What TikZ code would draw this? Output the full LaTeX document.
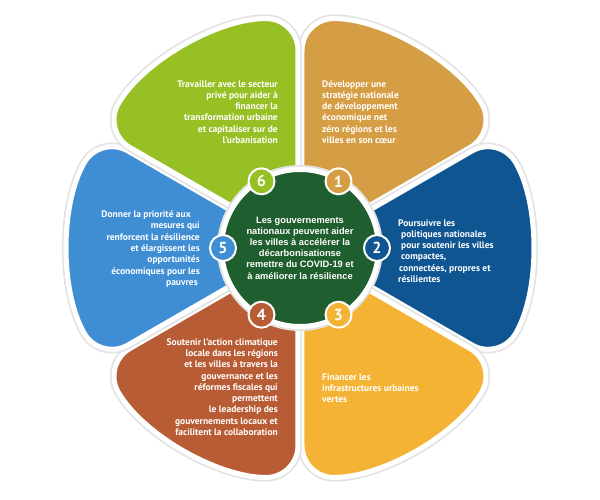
\documentclass[tikz,border=0pt]{standalone}
\usepackage{fontspec}
\setmainfont{PT Sans}
\newfontfamily\hubfont{Liberation Sans}
\usepackage{tikz}

\definecolor{petalone}{RGB}{214,158,68}
\definecolor{petaltwo}{RGB}{14,85,146}
\definecolor{petalthree}{RGB}{245,179,53}
\definecolor{petalfour}{RGB}{184,92,53}
\definecolor{petalfive}{RGB}{63,142,212}
\definecolor{petalsix}{RGB}{151,192,36}
\definecolor{hubgreen}{RGB}{31,94,46}

\tikzset{
	petal/.style={draw=white, line width=5pt, rounded corners=32pt,
		preaction={draw=gray!22, line width=8.5pt}},
	badge/.style={circle, draw=white, line width=2pt, minimum size=26pt, inner sep=0pt,
		text=white, font=\bfseries\fontsize{16}{16}\selectfont},
	petaltext/.style={text=white, inner sep=0pt, font=\bfseries\fontsize{9.5}{11.3}\selectfont}
}

\begin{document}
\begin{tikzpicture}[x=1pt, y=1pt]
				            \useasboundingbox (-300,-252) rectangle (300,248);

				            \fill[petal, fill=petalone] (60:4) -- ++(30:226)
				            arc[start angle=30, end angle=90, radius=226pt] -- cycle;
				            \fill[petal, fill=petaltwo] (0:4) -- ++(-30:226)
				            arc[start angle=-30, end angle=30, radius=226pt] -- cycle;
				            \fill[petal, fill=petalthree] (-60:4) -- ++(-90:226)
				            arc[start angle=-90, end angle=-30, radius=226pt] -- cycle;
				            \fill[petal, fill=petalfour] (-120:4) -- ++(-150:226)
				            arc[start angle=-150, end angle=-90, radius=226pt] -- cycle;
				            \fill[petal, fill=petalfive] (180:4) -- ++(150:226)
				            arc[start angle=150, end angle=210, radius=226pt] -- cycle;
				            \fill[petal, fill=petalsix] (120:4) -- ++(90:226)
				            arc[start angle=90, end angle=150, radius=226pt] -- cycle;

				            \node[circle, fill=hubgreen, draw=white, line width=5pt,
				            preaction={draw=gray!22, line width=9pt},
				            minimum size=157pt, inner sep=0pt, text=white, align=center,
				            font=\hubfont\bfseries\fontsize{9.3}{11.2}\selectfont] (hub) at (0,0)
				            {Les gouvernements\\ nationaux peuvent aider\\ les villes à accélérer la\\
				            décarbonisationse\\ remettre du COVID-19 et\\ à améliorer la résilience};

				            \node[badge, fill=petalone] (b1) at (60:77) {1};
				            \node[badge, fill=petaltwo] (b2) at (0:77) {2};
				            \node[badge, fill=petalthree] (b3) at (-60:77) {3};
				            \node[badge, fill=petalfour] (b4) at (-120:77) {4};
				            \node[badge, fill=petalfive] (b5) at (180:77) {5};
				            \node[badge, fill=petalsix] (b6) at (120:77) {6};

				            \node[petaltext, anchor=west, align=left] (t1) at (22,136)
				            {Développer une\\ stratégie nationale\\ de développement\\
				            économique net\\ zéro régions et les\\ villes en son cœur};
				            \node[petaltext, anchor=west, align=left] (t2) at (98,-3)
				            {Poursuivre les\\ \hspace*{3pt}politiques nationales\\
				            \hspace*{3pt}pour soutenir les villes\\ \hspace*{3pt}compactes,\\
				            \hspace*{1pt}connectées, propres et\\ résilientes};
				            \node[petaltext, anchor=west, align=left] (t3) at (22,-140)
				            {Financer les\\ infrastructures urbaines\\ vertes};
				            \node[petaltext, anchor=east, align=right] (t4) at (-22,-139)
				            {Soutenir l’action climatique\\ locale dans les régions\\
				            et les villes à travers la\\ gouvernance et les\\ réformes fiscales qui\\
				            permettent\\ le leadership des\\ gouvernements locaux et\\
				            facilitent la collaboration};
				            \node[petaltext, anchor=east, align=right] (t5) at (-100,-1)
				            {Donner la priorité aux\hspace*{9pt}\\ mesures qui\hspace*{15pt}\\
				            renforcent la résilience\\ et élargissent les\\ opportunités\\
				            économiques pour les\\ pauvres\hspace*{2pt}};
				            \node[petaltext, anchor=east, align=right] (t6) at (-22,136)
				            {Travailler avec le secteur\\ privé pour aider à\hspace*{5pt}\\
				            financer la\hspace*{9pt}\\ transformation urbaine\\
				            et capitaliser sur de\\ l’urbanisation};
			            \end{tikzpicture}
\end{document}
